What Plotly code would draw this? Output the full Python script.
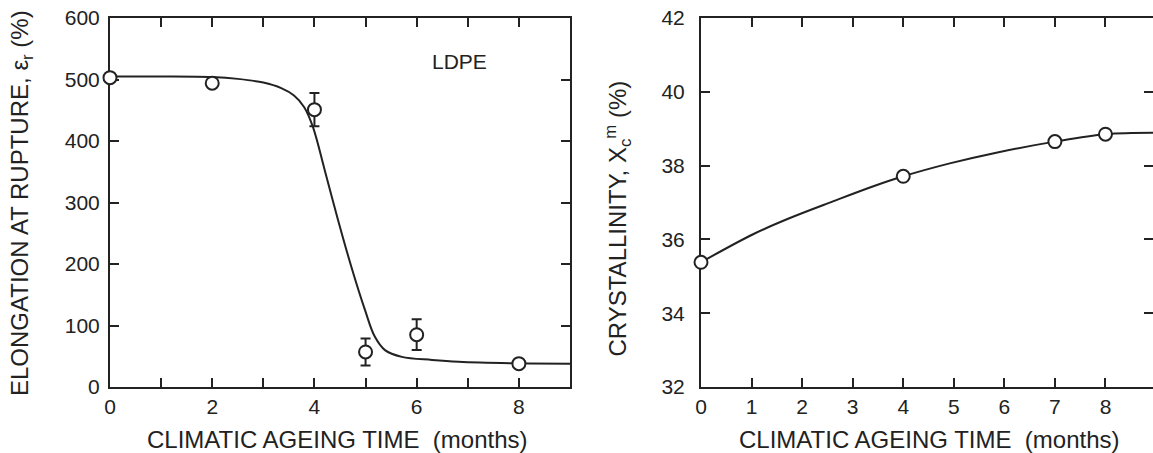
import plotly.graph_objects as go

# ---- LDPE elongation at rupture vs climatic ageing time ----
ageing_months = [0, 2, 4, 5, 6, 8]
elongation_pct = [503, 494, 451, 57, 85, 38]
elongation_err = [0, 0, 27, 22, 25, 0]

# fitted trend through the elongation data
elong_fit_x = [0, 1, 2, 2.5, 3, 3.35, 3.6, 3.8, 3.97, 4.2, 4.46, 4.72, 4.99, 5.18, 5.38, 5.71, 6.3, 6.82, 8, 9]
elong_fit_y = [505, 505, 504, 501, 495, 486, 474, 455, 423, 353, 272, 196, 125, 82, 60, 49, 44, 41, 38.5, 38]

# ---- crystallinity vs climatic ageing time ----
cryst_months = [0, 4, 7, 8]
crystallinity_pct = [35.38, 37.71, 38.65, 38.85]

cryst_fit_x = [0, 1.03, 1.76, 2.61, 3.41, 4.0, 4.92, 5.84, 7.0, 8.0, 8.94]
cryst_fit_y = [35.38, 36.14, 36.58, 37.03, 37.44, 37.71, 38.06, 38.35, 38.65, 38.85, 38.89]

INK = "#222222"
FONT = "Liberation Sans, Arial, sans-serif"
W, H = 1153, 453

fig = go.Figure()

fig.add_trace(go.Scatter(
    x=elong_fit_x, y=elong_fit_y, mode="lines", line=dict(color=INK, width=2, shape="spline", smoothing=1.0),
    xaxis="x", yaxis="y", showlegend=False, hoverinfo="skip"))
fig.add_trace(go.Scatter(
    x=ageing_months, y=elongation_pct, mode="markers",
    marker=dict(symbol="circle", size=13, color="white", line=dict(color=INK, width=2)),
    error_y=dict(type="data", array=elongation_err, visible=True, color=INK, thickness=2, width=5),
    cliponaxis=False, xaxis="x", yaxis="y", showlegend=False))

fig.add_trace(go.Scatter(
    x=cryst_fit_x, y=cryst_fit_y, mode="lines", line=dict(color=INK, width=2, shape="spline", smoothing=1.0),
    xaxis="x2", yaxis="y2", showlegend=False, hoverinfo="skip"))
fig.add_trace(go.Scatter(
    x=cryst_months, y=crystallinity_pct, mode="markers",
    marker=dict(symbol="circle", size=13, color="white", line=dict(color=INK, width=2)),
    cliponaxis=False, xaxis="x2", yaxis="y2", showlegend=False))

common = dict(showline=True, linecolor=INK, linewidth=2, mirror="allticks", ticks="inside",
              ticklen=9, tickwidth=2, tickcolor=INK, showgrid=False, zeroline=False,
              automargin=False, layer="below traces",
              tickfont=dict(family=FONT, size=21, color=INK))

y_top = 1 - 18 / H
y_bot = 1 - 387 / H

fig.update_layout(
    width=W, height=H, margin=dict(l=0, r=0, t=0, b=0, autoexpand=False),
    paper_bgcolor="white", plot_bgcolor="white",
    xaxis=dict(domain=[110 / W, 570 / W], range=[0, 9], tick0=0, dtick=1, ticklabelstep=2,
               anchor="y", **common),
    yaxis=dict(domain=[y_bot, y_top], range=[0, 600], tick0=0, dtick=100, anchor="x",
               ticklabelstandoff=4, **common),
    xaxis2=dict(domain=[701 / W, 1.0], range=[0, 8.94], tick0=0, dtick=1, anchor="y2", **common),
    yaxis2=dict(domain=[y_bot, y_top], range=[32, 42], tick0=32, dtick=2, anchor="x2",
                ticklabelstandoff=10, **common),
    font=dict(family=FONT, color=INK),
)

title_font = dict(family=FONT, size=24, color=INK)
fig.add_annotation(text="ELONGATION AT RUPTURE, \u03b5<sub>r</sub> (%)", xref="paper", yref="paper",
                   x=21.5 / W, y=1 - 203.5 / H, textangle=-90, showarrow=False,
                   xanchor="center", yanchor="middle", font=title_font)
fig.add_annotation(text="CLIMATIC AGEING TIME  (months)", xref="paper", yref="paper",
                   x=337.5 / W, y=1 - 439 / H, showarrow=False,
                   xanchor="center", yanchor="middle", font=title_font)
fig.add_annotation(text="CRYSTALLINITY, X<sub>c</sub><sup>m</sup> (%)", xref="paper", yref="paper",
                   x=617 / W, y=1 - 218.5 / H, textangle=-90, showarrow=False,
                   xanchor="center", yanchor="middle", font=title_font)
fig.add_annotation(text="CLIMATIC AGEING TIME  (months)", xref="paper", yref="paper",
                   x=929 / W, y=1 - 439 / H, showarrow=False,
                   xanchor="center", yanchor="middle", font=title_font)
fig.add_annotation(text="LDPE", xref="x", yref="y", x=6.83, y=530, showarrow=False,
                   xanchor="center", yanchor="middle", font=dict(family=FONT, size=21, color=INK))

fig.write_html("out.html")
